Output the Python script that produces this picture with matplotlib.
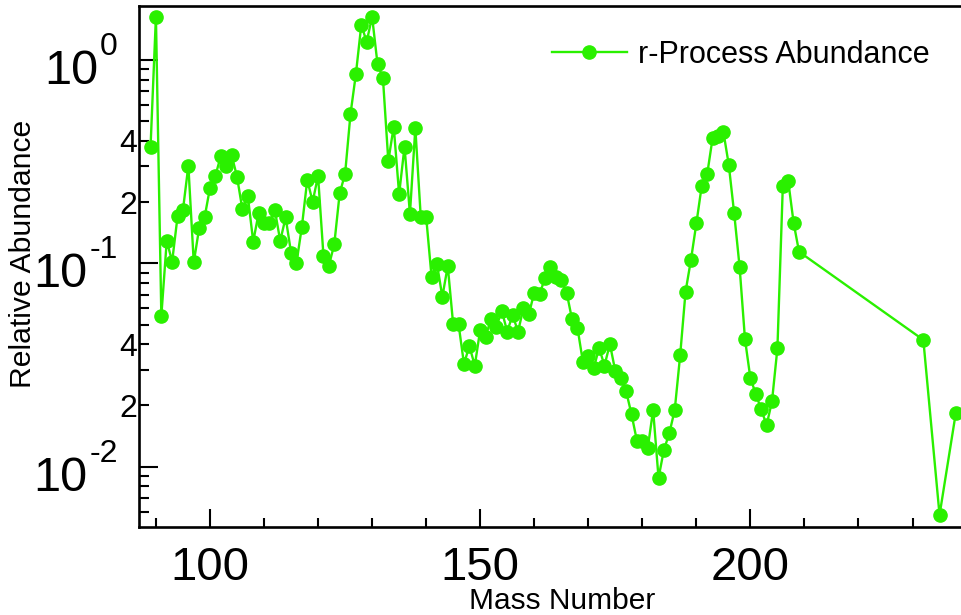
import math
import matplotlib
matplotlib.use("Agg")
import matplotlib.pyplot as plt
import matplotlib.transforms as mtrans
from matplotlib.ticker import FuncFormatter, LogLocator, MultipleLocator

plt.rcParams['font.family'] = ['Liberation Sans', 'DejaVu Sans']
plt.rcParams['axes.unicode_minus'] = False

# solar r-process residuals, A = 89..209 then the actinide points
mass_main = list(range(89, 210))
abund_main = [
    0.372, 1.633, 0.0551, 0.129, 0.102, 0.170, 0.183, 0.302, 0.101, 0.149,   # 89-98
    0.168, 0.235, 0.269, 0.337, 0.302, 0.341, 0.267, 0.184, 0.214, 0.128,    # 99-108
    0.176, 0.158, 0.158, 0.183, 0.129, 0.168, 0.113, 0.100, 0.151, 0.257,    # 109-118
    0.201, 0.269, 0.109, 0.0973, 0.124, 0.221, 0.275, 0.542, 0.853, 1.486,   # 119-128
    1.230, 1.633, 0.956, 0.818, 0.319, 0.470, 0.219, 0.375, 0.175, 0.463,    # 129-138
    0.1695, 0.1695, 0.0859, 0.0992, 0.0685, 0.0970, 0.0501, 0.0501, 0.0320, 0.0392,  # 139-148
    0.0314, 0.0470, 0.0436, 0.0532, 0.0488, 0.0584, 0.0461, 0.0557, 0.0461, 0.0601,  # 149-158
    0.0561, 0.0717, 0.0704, 0.0850, 0.0956, 0.0859, 0.0828, 0.0717, 0.0530, 0.0482,  # 159-168
    0.0328, 0.0350, 0.0304, 0.0384, 0.0314, 0.0401, 0.0295, 0.0272, 0.0235, 0.0181,  # 169-178
    0.0134, 0.0134, 0.0123, 0.0190, 0.0088, 0.0121, 0.0146, 0.0190, 0.0352, 0.0725,  # 179-188
    0.104, 0.157, 0.241, 0.274, 0.412, 0.423, 0.444, 0.305, 0.176, 0.0962,   # 189-198
    0.0423, 0.0272, 0.0228, 0.0191, 0.0160, 0.0210, 0.0382, 0.240, 0.254, 0.158,  # 199-208
    0.114,                                                                   # 209
]
mass_act = [232, 235, 238]
abund_act = [0.0420, 0.00578, 0.0183]

mass = mass_main + mass_act
abund = abund_main + abund_act

y_decades = [1.0, 0.1, 0.01]

green = '#2af000'

fig = plt.figure(figsize=(9.61, 6.15), dpi=100)
ax = fig.add_axes([0.1446, 0.1439, 0.8554, 0.8463])

ax.plot(mass, abund, '-o', color=green, lw=1.7, ms=9.5, mec=green, mfc=green,
        label='r-Process Abundance')

ax.set_yscale('log')
ax.set_xlim(86.86, 238.97)
ax.set_ylim(0.005074, 1.843)

# x ticks
ax.xaxis.set_major_locator(MultipleLocator(50))
ax.xaxis.set_minor_locator(MultipleLocator(10))

# y ticks: decades, with only 2 and 4 labelled in between
ax.yaxis.set_major_locator(LogLocator(base=10, subs=(1.0,)))
ax.yaxis.set_minor_locator(LogLocator(base=10, subs=range(2, 10)))


def minor_fmt(v, pos):
    m = v / 10 ** math.floor(math.log10(v) + 1e-9)
    m = int(round(m))
    return str(m) if m in (2, 4) else ''


ax.yaxis.set_minor_formatter(FuncFormatter(minor_fmt))

ax.tick_params(which='both', direction='in', width=1.5, top=False, right=False)
ax.tick_params(axis='y', which='major', length=13.7, labelleft=False)
ax.tick_params(axis='y', which='minor', length=7.2, pad=1.5, labelsize=23)
ax.tick_params(axis='x', which='major', length=13, pad=14, labelsize=34)
ax.tick_params(axis='x', which='minor', length=6.5)

for side in ('left', 'bottom', 'top'):
    ax.spines[side].set_linewidth(1.9)
ax.spines['right'].set_visible(False)

# decade labels drawn as "10" with a large raised exponent
blend = mtrans.blended_transform_factory(ax.transAxes, ax.transData)
exp_tr = mtrans.offset_copy(blend, fig=fig, y=5, units='dots')
renderer = fig.canvas.get_renderer()
for val in y_decades:
    e = int(round(math.log10(val)))
    t_exp = ax.text(-0.0256, val, str(e), transform=exp_tr, ha='right',
                    va='baseline', fontsize=23, clip_on=False)
    x0 = t_exp.get_window_extent(renderer).x0
    xb = ax.transAxes.inverted().transform((x0 - 2, 0))[0]
    base_tr = mtrans.offset_copy(blend, fig=fig, y=-24, units='dots')
    ax.text(xb, val, '10', transform=base_tr, ha='right', va='baseline',
            fontsize=35, clip_on=False)

ax.set_xlabel('Mass Number', fontsize=21.5, va='top')
ax.xaxis.set_label_coords(0.5146, -0.117)
ax.set_ylabel('Relative Abundance', fontsize=21.7, rotation=90, va='center', ha='center')
ax.yaxis.set_label_coords(-0.1411, 0.5245)

ax.legend(loc='center left', bbox_to_anchor=(0.5024, 0.906), frameon=False,
          fontsize=22, handlelength=2.45, handletextpad=0.36, borderpad=0,
          borderaxespad=0, markerscale=1.0)

fig.savefig('out.png', dpi=100)
